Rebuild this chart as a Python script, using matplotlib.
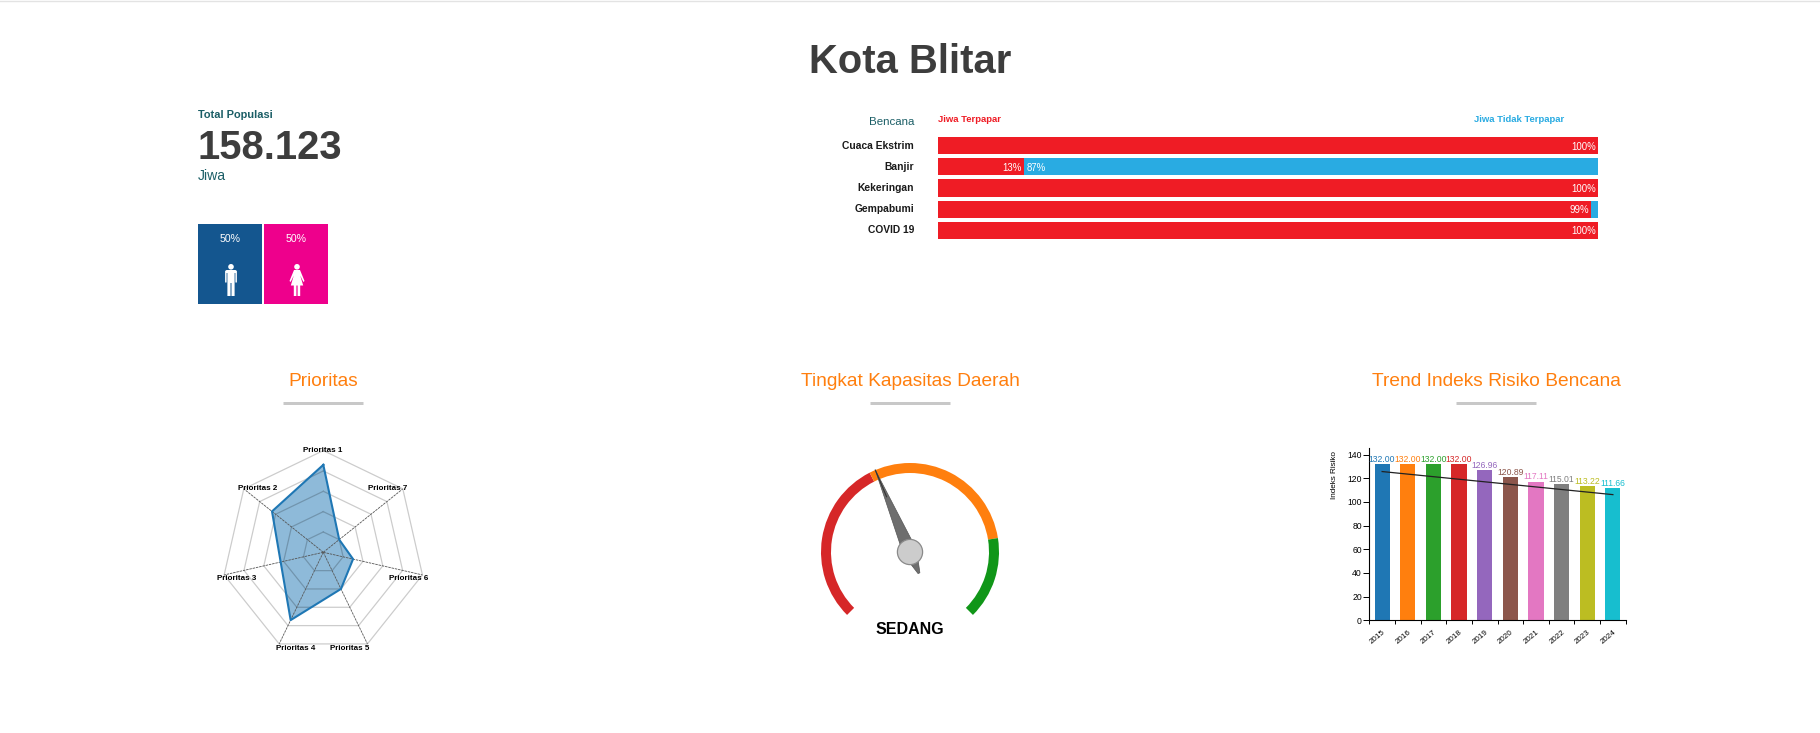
import numpy as np
import matplotlib
matplotlib.use('Agg')
import matplotlib.pyplot as plt
from matplotlib.patches import Wedge, Circle, Rectangle, Polygon

plt.rcParams['font.family'] = ['Liberation Sans', 'DejaVu Sans']

W, H = 1820, 733
PX = 0.72  # 1 px in points at dpi 100

# data
title = 'Kota Blitar'
population = '158.123'
male_pct = 50
female_pct = 50

hazards = ['Cuaca Ekstrim', 'Banjir', 'Kekeringan', 'Gempabumi', 'COVID 19']
exposed = [100, 13, 100, 99, 100]
not_exposed = [0, 87, 0, 1, 0]

priorities = ['Prioritas 1', 'Prioritas 2', 'Prioritas 3', 'Prioritas 4',
              'Prioritas 5', 'Prioritas 6', 'Prioritas 7']
priority_values = [86, 64.5, 43, 74, 40, 30, 20]
ring_levels = [20, 40, 60, 80, 100]

gauge_edges = [0, 0.4, 0.8, 1.0]
gauge_colors = ['#d62728', '#ff7f0e', '#109618']
gauge_value = 0.415
gauge_label = 'SEDANG'

years = ['2015', '2016', '2017', '2018', '2019', '2020', '2021', '2022', '2023', '2024']
risk = [132.00, 132.00, 132.00, 132.00, 126.96, 120.89, 117.11, 115.01, 113.22, 111.66]
trend_ends = [125.7, 106.2]
yticks = [0, 20, 40, 60, 80, 100, 120, 140]
tab10 = ['#1f77b4', '#ff7f0e', '#2ca02c', '#d62728', '#9467bd',
         '#8c564b', '#e377c2', '#7f7f7f', '#bcbd22', '#17becf']

fig = plt.figure(figsize=(W / 100, H / 100), dpi=100, facecolor='white')


def px_axes(x0, y0, x1, y1, **kw):
    return fig.add_axes([x0 / W, 1 - y1 / H, (x1 - x0) / W, (y1 - y0) / H], **kw)


# page layer in pixel coordinates
page = px_axes(0, 0, W, H)
page.set_xlim(0, W)
page.set_ylim(H, 0)
page.axis('off')

page.plot([0, W], [0.5, 0.5], color='#e3e3e3', lw=1)
page.text(910, 62, title, ha='center', va='center', fontsize=40 * PX,
          fontweight='bold', color='#3d3d3d')

# population
teal = '#1b5e66'
page.text(198, 115, 'Total Populasi', va='center', fontsize=11 * PX, fontweight='bold', color=teal)
page.text(198, 148, population, va='center', fontsize=40 * PX, fontweight='bold', color='#3d3d3d')
page.text(198, 176, 'Jiwa', va='center', fontsize=14 * PX, color=teal)

page.add_patch(Rectangle((198, 224), 64, 80, color='#14568f', lw=0))
page.add_patch(Rectangle((264, 224), 64, 80, color='#ee008c', lw=0))
page.text(230, 239, f'{male_pct}%', ha='center', va='center', fontsize=10.5 * PX, color='white')
page.text(296, 239, f'{female_pct}%', ha='center', va='center', fontsize=10.5 * PX, color='white')

# man icon
cx = 231
page.add_patch(Circle((cx, 266.8), 2.8, color='white', lw=0))
page.add_patch(Polygon([(cx - 5.9, 271), (cx - 4.5, 270), (cx + 4.5, 270), (cx + 5.9, 271), (cx + 5.9, 282.5),
                        (cx + 4.4, 282.5), (cx + 4.4, 273), (cx + 3.6, 273), (cx + 3.6, 296), (cx + 0.5, 296),
                        (cx + 0.5, 283), (cx - 0.5, 283), (cx - 0.5, 296), (cx - 3.6, 296), (cx - 3.6, 273),
                        (cx - 4.4, 273), (cx - 4.4, 282.5), (cx - 5.9, 282.5)], color='white', lw=0))
# woman icon
cx = 297
page.add_patch(Circle((cx, 266.8), 2.8, color='white', lw=0))
page.add_patch(Polygon([(cx - 3, 270), (cx + 3, 270), (cx + 7.5, 281), (cx + 6.4, 282), (cx + 3.2, 275.5),
                        (cx + 6.2, 285.5), (cx + 3.2, 285.5), (cx + 3.2, 296), (cx + 0.6, 296), (cx + 0.6, 285.5),
                        (cx - 0.6, 285.5), (cx - 0.6, 296), (cx - 3.2, 296), (cx - 3.2, 285.5), (cx - 6.2, 285.5),
                        (cx - 3.2, 275.5), (cx - 6.4, 282), (cx - 7.5, 281)], color='white', lw=0))

# exposure bars
bar_red = '#ef1c25'
bar_blue = '#29abe2'
page.text(914, 122, 'Bencana', ha='right', va='center', fontsize=11.5 * PX, color=teal)
page.text(938, 120, 'Jiwa Terpapar', va='center', fontsize=9.5 * PX, fontweight='bold', color=bar_red)
page.text(1474, 120, 'Jiwa Tidak Terpapar', va='center', fontsize=9.5 * PX, fontweight='bold', color=bar_blue)

ax_bar = px_axes(938, 134.9, 1598, 241.1)
rows = np.arange(len(hazards))
ax_bar.barh(rows, exposed, height=0.81, color=bar_red)
ax_bar.barh(rows, not_exposed, left=exposed, height=0.81, color=bar_blue)
ax_bar.set_xlim(0, 100)
ax_bar.set_ylim(4.5, -0.5)
ax_bar.axis('off')
for i, name in enumerate(hazards):
    ax_bar.annotate(name, (0, i), xytext=(-24, 0), textcoords='offset pixels', ha='right', va='center',
                    fontsize=10.3 * PX, fontweight='bold', color='#1a1a1a')
    ax_bar.annotate(f'{exposed[i]}%', (exposed[i], i), xytext=(-2, -1), textcoords='offset pixels', ha='right',
                    va='center', fontsize=9.6 * PX, color='white')
    if not_exposed[i] > 1:
        ax_bar.annotate(f'{not_exposed[i]}%', (exposed[i], i), xytext=(3, -1), textcoords='offset pixels',
                        ha='left', va='center', fontsize=9.6 * PX, color='white')

# section headings
for x, heading in [(323, 'Prioritas'), (910, 'Tingkat Kapasitas Daerah'), (1496, 'Trend Indeks Risiko Bencana')]:
    page.text(x, 381, heading, ha='center', va='center', fontsize=19.2 * PX, color='#ff7f0e')
    page.plot([x - 40, x + 40], [402.5, 402.5], color='#c8c8c8', lw=3 * PX, solid_capstyle='butt')

# radar
rc = (323.3, 552.3)
R = 101.7
ax_radar = px_axes(rc[0] - R, rc[1] - R, rc[0] + R, rc[1] + R, projection='polar')
ax_radar.set_theta_offset(np.pi / 2)
ax_radar.set_ylim(0, 100)
ax_radar.axis('off')
angles = 2 * np.pi * np.arange(len(priorities)) / len(priorities)
closed = np.append(angles, angles[0])
ax_radar.fill(closed, priority_values + priority_values[:1], color='#1f77b4', alpha=0.5, lw=0)
for level in ring_levels:
    ax_radar.plot(closed, [level] * len(closed), color='black', alpha=0.2, lw=0.9, clip_on=False)
# no spoke shows towards Prioritas 1 in the reference
for a in angles[1:]:
    ax_radar.plot([a, a], [0, 100], color='#555555', lw=0.6, ls=(0, (3, 1)), clip_on=False)
ax_radar.plot(closed, priority_values + priority_values[:1], color='#1f77b4', lw=1.5, clip_on=False)

radar_label_xy = [(323, 451), (258, 488), (237, 579), (296, 648), (350, 648), (409, 579), (388, 488)]
for (x, y), name in zip(radar_label_xy, priorities):
    page.text(x, y, name, ha='center', va='center', fontsize=8 * PX, fontweight='bold', color='black', zorder=5)
page.set_zorder(3)
page.patch.set_visible(False)

# gauge
ax_g = px_axes(810, 452, 1010, 652)
ax_g.set_xlim(-100, 100)
ax_g.set_ylim(-100, 100)
ax_g.axis('off')


def gauge_angle(v):
    # degrees from +x axis, sweep is 270 deg clockwise
    return 90 - (-135 + 270 * v)


for lo, hi, c in zip(gauge_edges[:-1], gauge_edges[1:], gauge_colors):
    ax_g.add_patch(Wedge((0, 0), 89, gauge_angle(hi), gauge_angle(lo), width=10, color=c, lw=0))

a = np.deg2rad(gauge_angle(gauge_value))
u = np.array([np.cos(a), np.sin(a)])
n = np.array([-u[1], u[0]])
needle = [u * 89, n * 7, -u * 23 + n * 1, -u * 23 - n * 1, -n * 7]
ax_g.add_patch(Polygon(needle, closed=True, facecolor='#6e6e6e', edgecolor='#555555', lw=0.5))
ax_g.plot([u[0] * 89, u[0] * 60], [u[1] * 89, u[1] * 60], color='#333333', lw=0.8)
ax_g.add_patch(Circle((0, 0), 12.6, facecolor='#cccccc', edgecolor='#8a8a8a', lw=0.9, zorder=4))
page.text(910, 629, gauge_label, ha='center', va='center', fontsize=16 * PX, fontweight='bold', color='black')

# trend
ax_t = px_axes(1369.3, 448, 1625.7, 620.3)
pos = np.arange(len(years)) + 0.5
ax_t.bar(pos, risk, width=0.59, color=tab10)
ax_t.plot([pos[0], pos[-1]], trend_ends, color='#222222', lw=0.9)
for p, v, c in zip(pos, risk, tab10):
    ax_t.annotate(f'{v:.2f}', (p, v), xytext=(0, 5), textcoords='offset pixels', ha='center', va='center',
                  fontsize=8.7 * PX, color=c)
ax_t.set_xlim(0, len(years))
ax_t.set_ylim(0, 145.6)
ax_t.set_yticks(yticks)
ax_t.set_xticks(np.arange(len(years) + 1))
ax_t.set_xticklabels([])
ax_t.tick_params(axis='y', length=6 * PX, width=0.7, labelsize=8.6 * PX, pad=1)
ax_t.tick_params(axis='x', length=4 * PX, width=0.7)
for p, y in zip(pos, years):
    ax_t.annotate(y, (p, 0), xytext=(0, -8), textcoords='offset pixels', xycoords='data', ha='right', va='top',
                  rotation=40, rotation_mode='anchor', fontsize=8 * PX, color='black', annotation_clip=False)
ax_t.spines[['top', 'right']].set_visible(False)
ax_t.spines[['left', 'bottom']].set_linewidth(0.8)
page.text(1334, 475, 'Indeks Risiko', rotation=90, ha='center', va='center', fontsize=8.2 * PX, color='black')

fig.savefig('out.png', dpi=100)
